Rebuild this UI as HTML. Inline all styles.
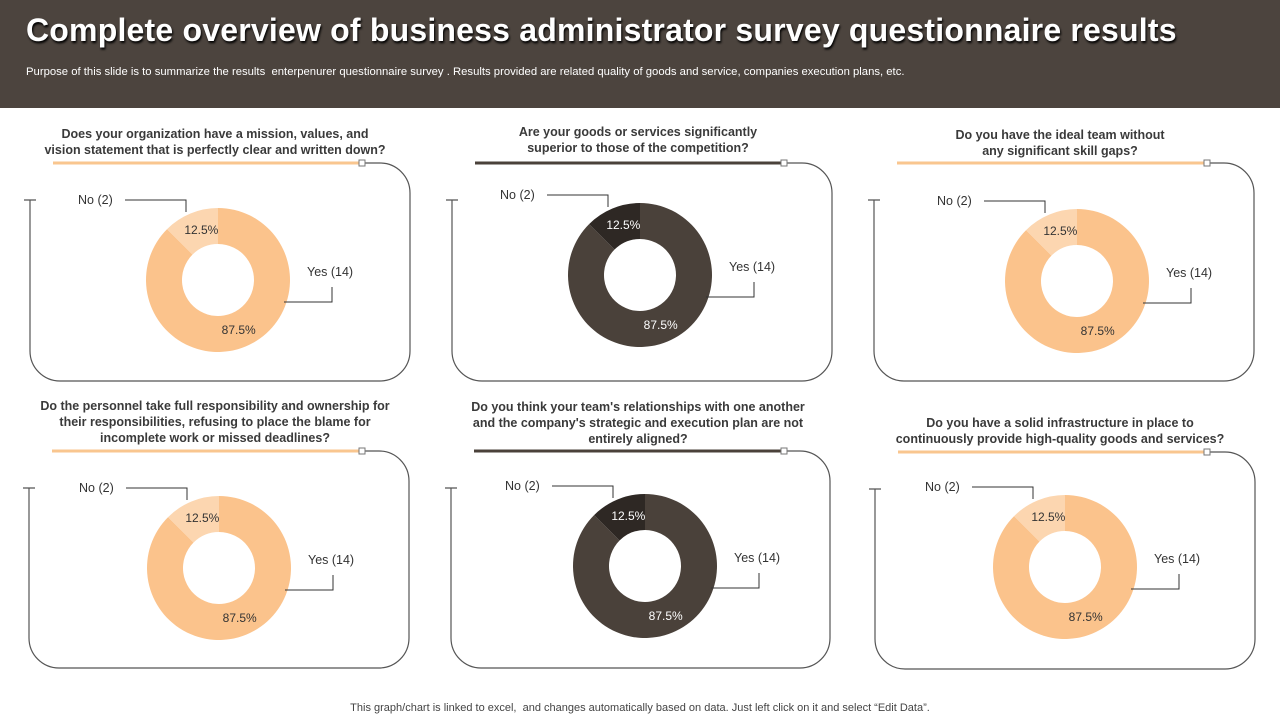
<!DOCTYPE html>
<html><head><meta charset="utf-8">
<style>
html,body{margin:0;padding:0;width:1280px;height:720px;overflow:hidden;background:#fff;font-family:"Liberation Sans",sans-serif;}
#hdr{position:absolute;left:0;top:0;width:1280px;height:108px;background:#4c443e;}
#ttl{position:absolute;left:26px;top:12px;color:#fff;font-weight:bold;font-size:32px;white-space:nowrap;text-shadow:1px 2px 2px #000;letter-spacing:0.2px;}
#sub{position:absolute;left:26px;top:66px;color:#fff;font-size:11.3px;white-space:nowrap;}
#foot{position:absolute;left:0;width:1280px;top:702px;text-align:center;font-size:11px;color:#444;}
svg{position:absolute;left:0;top:0;}
</style></head><body>
<div id="hdr"></div>
<div id="ttl">Complete overview of business administrator survey questionnaire results</div>
<div id="sub">Purpose of this slide is to summarize the results&nbsp; enterpenurer questionnaire survey . Results provided are related quality of goods and service, companies execution plans, etc.</div>
<svg id="chart" width="1280" height="720"></svg>
<div id="foot">This graph/chart is linked to excel,&nbsp; and changes automatically based on data. Just left click on it and select “Edit Data”.</div>
<script>
const questions = [
 ["Does your organization have a mission, values, and","vision statement that is perfectly clear and written down?"],
 ["Are your goods or services significantly","superior to those of the competition?"],
 ["Do you have the ideal team without","any significant skill gaps?"],
 ["Do the personnel take full responsibility and ownership for","their responsibilities, refusing to place the blame for","incomplete work or missed deadlines?"],
 ["Do you think your team's relationships with one another","and the company's strategic and execution plan are not","entirely aligned?"],
 ["Do you have a solid infrastructure in place to","continuously provide high-quality goods and services?"]
];
const yesCounts = [14,14,14,14,14,14];
const noCounts = [2,2,2,2,2,2];
const categories = ["Yes","No"];

const layout = [
 {l:30,r:410,t:163,b:381,ul:53,ur:362,cx:218,cy:280,ty:134,tc:215,dark:false},
 {l:452,r:832,t:163,b:381,ul:475,ur:784,cx:640,cy:275,ty:132,tc:638,dark:true},
 {l:874,r:1254,t:163,b:381,ul:897,ur:1207,cx:1077,cy:281,ty:135,tc:1060,dark:false},
 {l:29,r:409,t:451,b:668,ul:52,ur:362,cx:219,cy:568,ty:406,tc:215,dark:false},
 {l:451,r:830,t:451,b:668,ul:474,ur:784,cx:645,cy:566,ty:407,tc:638,dark:true},
 {l:875,r:1255,t:452,b:669,ul:898,ur:1207,cx:1065,cy:567,ty:423,tc:1060,dark:false}
];
const NS="http://www.w3.org/2000/svg";
const svg=document.getElementById('chart');
function mk(tag,attrs,parent){const e=document.createElementNS(NS,tag);for(const k in attrs)e.setAttribute(k,attrs[k]);(parent||svg).appendChild(e);return e;}
function pt(cx,cy,r,a){return [cx+r*Math.sin(a),cy-r*Math.cos(a)];}
function arc(cx,cy,R,r,a0,a1){
 const big=(a1-a0)>Math.PI?1:0;
 const p0=pt(cx,cy,R,a0),p1=pt(cx,cy,R,a1),p2=pt(cx,cy,r,a1),p3=pt(cx,cy,r,a0);
 return `M${p0} A${R},${R} 0 ${big} 1 ${p1} L${p2} A${r},${r} 0 ${big} 0 ${p3} Z`;
}
layout.forEach((L,i)=>{
 const g=mk('g',{});
 
 
 questions[i].forEach((ln,j)=>{
  const t=mk('text',{x:L.tc,y:L.ty+j*16+4,'text-anchor':'middle','font-size':'12.5','font-weight':'bold',fill:'#3a3a3a'},g);
  
  
  t.textContent=ln;
 });
 const ulc=L.dark?'#4a413a':'#f9c68f';
 const u=mk('line',{x1:L.ul,y1:L.t,x2:L.ur,y2:L.t,stroke:ulc,'stroke-width':3},g);
 
 
 const rr=30, tick=L.t+37;
 const p=mk('path',{d:`M${L.ur},${L.t} L${L.r-rr},${L.t} A${rr},${rr} 0 0 1 ${L.r},${L.t+rr} L${L.r},${L.b-rr} A${rr},${rr} 0 0 1 ${L.r-rr},${L.b} L${L.l+rr},${L.b} A${rr},${rr} 0 0 1 ${L.l},${L.b-rr} L${L.l},${tick} M${L.l-6},${tick} L${L.l+6},${tick}`,fill:'none',stroke:'#555','stroke-width':1.2},g);
 
 
 const sq=mk('rect',{x:L.ur-3,y:L.t-3,width:6,height:6,fill:'#fff',stroke:'#777','stroke-width':1},g);
 
 
 const tot=yesCounts[i]+noCounts[i];
 const yesA=2*Math.PI*yesCounts[i]/tot;
 const cYes=L.dark?'#4a413a':'#fbc38c', cNo=L.dark?'#2e2824':'#fcd6b0';
 const txtC=L.dark?'#fff':'#333';
 const s1=mk('path',{d:arc(L.cx,L.cy,72,36,0,yesA),fill:cYes},g);
 
 
 const s2=mk('path',{d:arc(L.cx,L.cy,72,36,yesA,2*Math.PI),fill:cNo},g);
 
 
 const fmt=v=>(v*100).toFixed(1)+'%';
 const py=pt(L.cx,L.cy,54,yesA/2), pn=pt(L.cx,L.cy,54,(yesA+2*Math.PI)/2);
 const t1=mk('text',{x:py[0],y:py[1]+4,'text-anchor':'middle','font-size':'12',fill:txtC},g);
 
 
 t1.textContent=fmt(yesCounts[i]/tot);
 const t2=mk('text',{x:pn[0]+4,y:pn[1]+4,'text-anchor':'middle','font-size':'12',fill:txtC},g);
 
 
 t2.textContent=fmt(noCounts[i]/tot);
 // leaders
 const ln1=mk('path',{d:`M${L.cx-93},${L.cy-80} L${L.cx-32},${L.cy-80} L${L.cx-32},${L.cy-68}`,fill:'none',stroke:'#333','stroke-width':1},g);
 
 
 const ln2=mk('path',{d:`M${L.cx+66},${L.cy+22} L${L.cx+114},${L.cy+22} L${L.cx+114},${L.cy+7}`,fill:'none',stroke:'#333','stroke-width':1},g);
 
 
 const nl=mk('text',{x:L.cx-140,y:L.cy-76,'font-size':'12.5',fill:'#333'},g);
 
 
 nl.textContent=categories[1]+' ('+noCounts[i]+')';
 const yl=mk('text',{x:L.cx+89,y:L.cy-4,'font-size':'12.5',fill:'#333'},g);
 
 
 yl.textContent=categories[0]+' ('+yesCounts[i]+')';
});
</script>
</body></html>
